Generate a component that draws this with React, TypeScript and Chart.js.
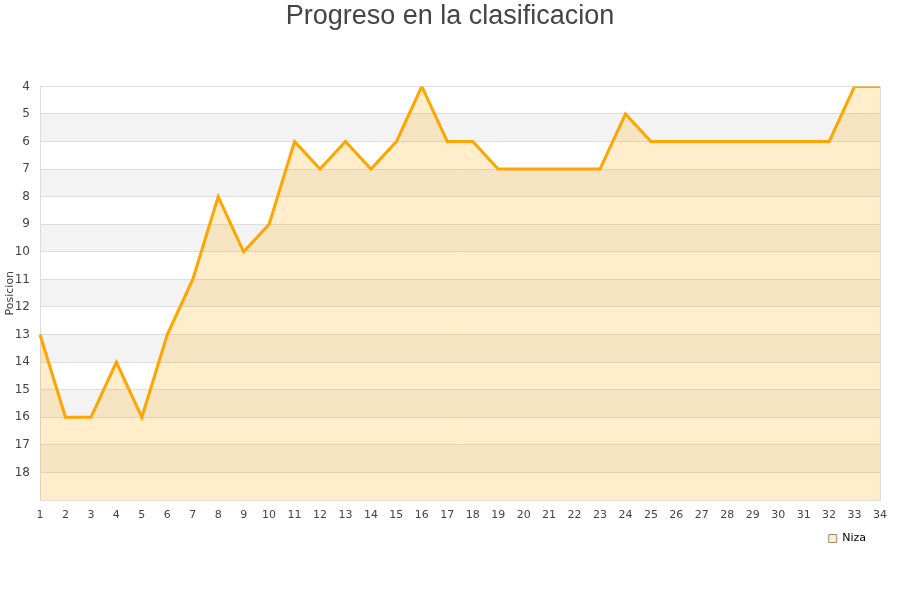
import React, { useEffect, useRef } from "react";
import { Chart, registerables } from "chart.js";

Chart.register(...registerables);

const jornadas: string[] = Array.from({ length: 34 }, (_, i) => String(i + 1));
const posiciones: number[] = [
  13, 16, 16, 14, 16, 13, 11, 8, 10, 9, 6, 7, 6, 7, 6, 4, 6, 6, 7, 7, 7, 7, 7, 5, 6, 6, 6, 6, 6, 6, 6, 6, 4, 4,
];
const equipo = "Niza";
const titulo = "Progreso en la clasificacion";
const ejeY = "Posicion";
const bandasGrises: [number, number][] = [
  [5, 6], [7, 8], [9, 10], [11, 12], [13, 14], [15, 16], [17, 18],
];

const bandPlugin = {
  id: "bands",
  beforeDraw(chart: any) {
    const { ctx, chartArea, scales } = chart;
    const y = scales.y;
    ctx.save();
    ctx.fillStyle = "#f3f3f3";
    for (const [a, b] of bandasGrises) {
      const y1 = y.getPixelForValue(a);
      const y2 = y.getPixelForValue(b);
      ctx.fillRect(chartArea.left, Math.min(y1, y2), chartArea.right - chartArea.left, Math.abs(y2 - y1));
    }
    ctx.restore();
  },
  afterDraw(chart: any) {
    const { ctx, chartArea } = chart;
    ctx.save();
    ctx.strokeStyle = "#dddddd";
    ctx.lineWidth = 1;
    ctx.beginPath();
    ctx.moveTo(Math.round(chartArea.right) + 0.5, chartArea.top);
    ctx.lineTo(Math.round(chartArea.right) + 0.5, chartArea.bottom);
    ctx.stroke();
    ctx.restore();
  },
};

export default function App() {
  const ref = useRef<HTMLCanvasElement | null>(null);
  useEffect(() => {
    document.body.style.margin = "0";
    const chart = new Chart(ref.current as HTMLCanvasElement, {
      type: "line",
      data: {
        labels: jornadas,
        datasets: [
          {
            label: equipo,
            data: posiciones,
            borderColor: "#ffa500",
            backgroundColor: "rgba(255,165,0,0.2)",
            borderWidth: 3,
            pointRadius: 0,
            tension: 0,
            fill: "start",
          },
        ],
      },
      options: {
        animation: false,
        responsive: false,
        layout: { padding: { left: 0, right: 0, top: 0, bottom: 46 } },
        plugins: {
          title: {
            display: true,
            text: titulo,
            color: "#444444",
            font: { family: "Liberation Sans", size: 27, weight: "normal" },
            padding: { top: 0, bottom: 54 },
          },
          legend: {
            display: true,
            position: "bottom",
            align: "end",
            fullSize: false,
            labels: {
              color: "#000000",
              font: { family: "DejaVu Sans", size: 11 },
              boxWidth: 8,
              boxHeight: 8,
              padding: 14,
              generateLabels: (c: any) =>
                c.data.datasets.map((d: any, i: number) => ({
                  text: d.label,
                  fillStyle: "#ffeecc",
                  strokeStyle: "#9a8a70",
                  lineWidth: 1,
                  hidden: false,
                  datasetIndex: i,
                  fontColor: "#000000",
                })),
            },
          },
          tooltip: { enabled: false },
        },
        scales: {
          x: {
            offset: false,
            grid: { display: false },
            border: { display: true, color: "#dddddd" },
            ticks: {
              color: "#444444",
              font: { family: "DejaVu Sans", size: 11 },
              maxRotation: 0,
              autoSkip: false,
              padding: 1,
            },
            afterFit: (s: any) => {
              s.height = 19;
            },
          },
          y: {
            reverse: true,
            min: 4,
            max: 19,
            grid: { color: "#dddddd", drawTicks: false },
            border: { display: true, color: "#dddddd" },
            title: {
              display: true,
              text: ejeY,
              color: "#444444",
              font: { family: "DejaVu Sans", size: 11 },
              padding: { top: 4, bottom: 0 },
            },
            ticks: {
              stepSize: 1,
              color: "#444444",
              font: { family: "DejaVu Sans", size: 12 },
              padding: 10,
              callback: (v: any) => (v === 19 ? "" : String(v)),
            },
            afterFit: (s: any) => {
              s.width = 40;
            },
          },
          yRight: {
            position: "right",
            display: true,
            grid: { display: false },
            border: { display: false },
            ticks: { display: false },
            afterFit: (s: any) => {
              s.width = 20;
            },
          },
        },
      },
      plugins: [bandPlugin],
    } as any);
    return () => chart.destroy();
  }, []);
  return (
    <div style={{ position: "fixed", left: 0, top: 0, width: 900, height: 600 }}>
      <canvas ref={ref} width={900} height={600} />
    </div>
  );
}
